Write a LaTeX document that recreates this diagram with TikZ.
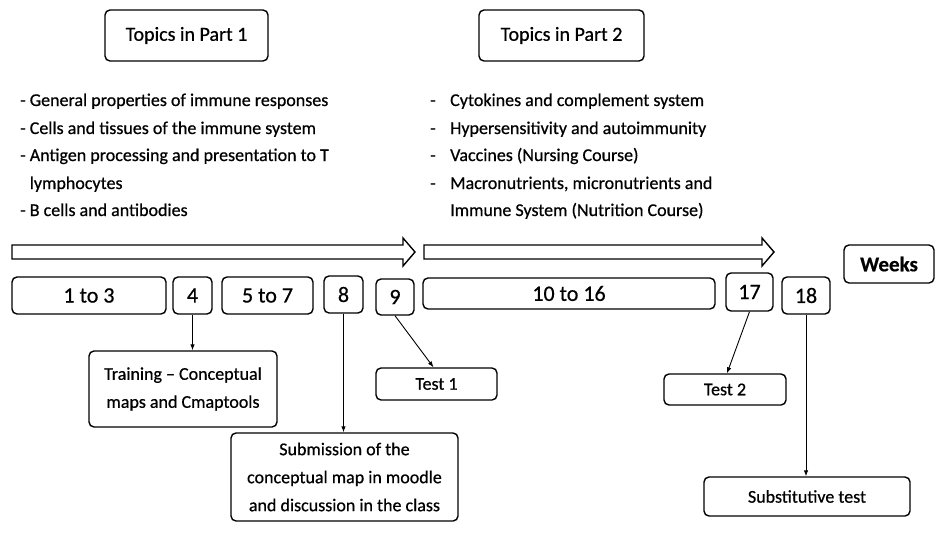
\documentclass[tikz,border=0pt]{standalone}
\usepackage{fontspec}
\setmainfont{Carlito}[FakeBold=0.6]
\usetikzlibrary{arrows.meta}
\begin{document}
\begin{tikzpicture}[x=1pt,y=-1pt,
  box/.style={draw, line width=1.4pt, rounded corners=5pt, inner sep=0pt, align=center, fill=white},
  topic/.style={box, font=\fontsize{20}{24}\selectfont},
  week/.style={box, font=\fontsize{22}{26}\selectfont},
  note/.style={box, font=\fontsize{18}{28}\selectfont},
  item/.style={anchor=base west, inner sep=0pt, font=\fontsize{18}{27}\selectfont},
  link/.style={line width=0.9pt, -{Latex[length=6pt,width=4.5pt]}},
  band/.style={draw, line width=1.4pt, fill=white, line join=miter}
]
\useasboundingbox[fill=white] (0,0) rectangle (936,535);

% headings
\node[topic, minimum width=163pt, minimum height=51pt] (top1) at (186.5,35.5) {Topics in Part 1};
\node[topic, minimum width=165pt, minimum height=51pt] (top2) at (561.5,35.5) {Topics in Part 2};

% topics of part 1
\node[item] (pa) at (20,106) {- General properties of immune responses};
\node[item] (pb) at (20,134) {- Cells and tissues of the immune system};
\node[item] (pc) at (20,161) {- Antigen processing and presentation to T};
\node[item] (pd) at (20,189) {\phantom{- }lymphocytes};
\node[item] (pe) at (20,216) {- B cells and antibodies};

% topics of part 2
\node[item] (qa) at (430,106) {\makebox[20pt][l]{-}Cytokines and complement system};
\node[item] (qb) at (430,134) {\makebox[20pt][l]{-}Hypersensitivity and autoimmunity};
\node[item] (qc) at (430,161) {\makebox[20pt][l]{-}Vaccines (Nursing Course)};
\node[item] (qd) at (430,189) {\makebox[20pt][l]{-}Macronutrients, micronutrients and};
\node[item] (qe) at (430,216) {\makebox[20pt][l]{}Immune System (Nutrition Course)};

% timeline arrows
\draw[band] (12,245) -- (403,245) -- (403,238) -- (415,252) -- (403,266) -- (403,259) -- (12,259) -- cycle;
\draw[band] (424,245) -- (762,245) -- (762,238) -- (774,252) -- (762,266) -- (762,259) -- (424,259) -- cycle;

% weeks
\node[week, minimum width=154pt, minimum height=37pt] (w13) at (89,295.5) {1 to 3};
\node[week, minimum width=39pt, minimum height=37pt] (w4) at (192.5,295.5) {4};
\node[week, minimum width=91pt, minimum height=37pt] (w57) at (267.5,295.5) {5 to 7};
\node[week, minimum width=39pt, minimum height=37pt] (w8) at (343.5,294.5) {8};
\node[week, minimum width=38pt, minimum height=36pt] (w9) at (395,297) {9};
\node[week, minimum width=292pt, minimum height=31pt] (w1016) at (569,293.5) {10 to 16};
\node[week, minimum width=47pt, minimum height=38pt] (w17) at (749.5,292) {17};
\node[week, minimum width=48pt, minimum height=37pt] (w18) at (806,295.5) {18};
\node[box, font=\fontsize{21}{25}\selectfont\bfseries, minimum width=90pt, minimum height=38pt] (weeks) at (889,264) {Weeks};

% activities
\node[note, minimum width=188pt, minimum height=76pt] (train) at (183,389) {Training -- Conceptual\\maps and Cmaptools};
\node[note, minimum width=227pt, minimum height=88pt] (subm) at (344.5,477) {Submission of the\\conceptual map in moodle\\and discussion in the class};
\node[note, minimum width=121pt, minimum height=32pt] (test1) at (436.5,384) {Test 1};
\node[note, minimum width=122pt, minimum height=31pt] (test2) at (725,389.5) {Test 2};
\node[note, minimum width=206pt, minimum height=39pt] (subst) at (807,496.5) {Substitutive test};

% links from weeks to activities
\draw[link] (w4.south) -- (w4.south |- train.north);
\draw[link] (w8.south) -- (w8.south |- subm.north);
\draw[link] (w9.south) -- ([xshift=-3pt]test1.north);
\draw[link] (w17.south) -- ([xshift=2pt]test2.north);
\draw[link] (w18.south) -- (w18.south |- subst.north);
\end{tikzpicture}
\end{document}
